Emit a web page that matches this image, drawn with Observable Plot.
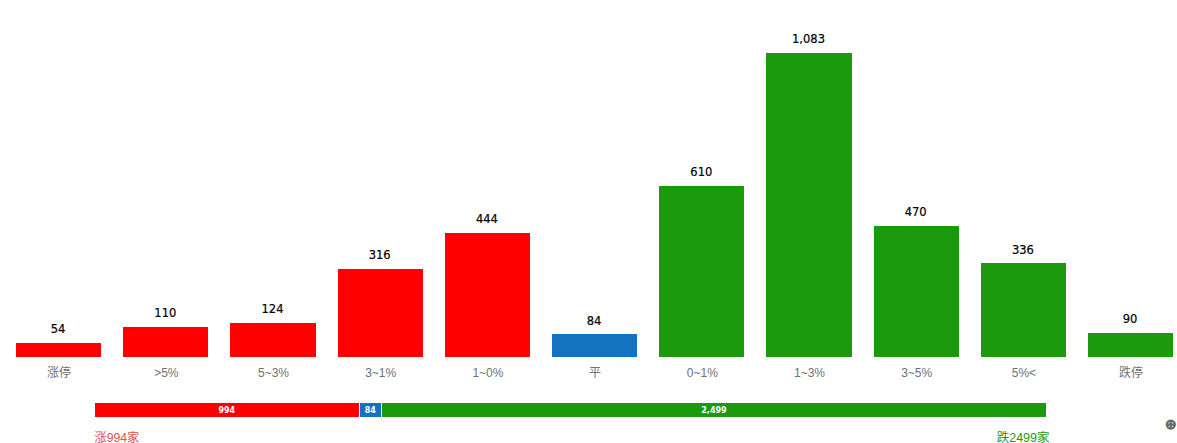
<!DOCTYPE html>
<html>
<head>
<meta charset="utf-8">
<script src="https://cdn.jsdelivr.net/npm/d3@7"></script>
<script src="https://cdn.jsdelivr.net/npm/@observablehq/plot@0.6"></script>
<style>
html,body{margin:0;padding:0;background:#fff;overflow:hidden}
#wrap{position:relative;width:1177px;height:443px;overflow:hidden}
svg{display:block}
#icon{position:absolute;left:1165px;top:415px;font:14px/18px "DejaVu Sans";color:#6a6a6a;-webkit-text-stroke:1px #6a6a6a}
</style>
</head>
<body>
<div id="wrap"></div>
<script>
const categories = ["涨停", ">5%", "5~3%", "3~1%", "1~0%", "平", "0~1%", "1~3%", "3~5%", "5%<", "跌停"];
const counts = [54, 110, 124, 316, 444, 84, 610, 1083, 470, 336, 90];
const groups = ["up","up","up","up","up","flat","down","down","down","down","down"];
const summaryNames = ["涨", "平", "跌"];
const summaryKeys = ["up", "flat", "down"];
const summaryCounts = [994, 84, 2499];
const captions = ["涨994家", "跌2499家"];
const palette = ["#ff0000", "#1373c0", "#1a9a0c"];
const font = '"Liberation Sans","Noto Sans CJK SC",sans-serif';
const fmt = d3.format(",");

const rows = categories.map((c, i) => ({c, n: counts[i], g: groups[i]}));
const color = {domain: summaryKeys, range: palette};

const main = Plot.plot({
  width: 1177, height: 390,
  marginTop: 52, marginBottom: 33, marginLeft: 0, marginRight: 0,
  style: {fontFamily: font, background: "transparent"},
  x: {domain: categories, range: [5.0, 1184.2], paddingInner: 0.206, paddingOuter: 0.103, align: 0.5, round: false, label: null},
  y: {domain: [0, 1083], label: null, axis: null},
  color,
  marks: [
    Plot.axisX({tickSize: 0, tickPadding: 11, fontSize: 12, color: "#6e7079", label: null}),
    Plot.barY(rows, {x: "c", y: "n", fill: "g", insetTop: 1, shapeRendering: "crispEdges"}),
    Plot.text(rows, {x: "c", y: "n", text: d => fmt(d.n), dx: -1, dy: -13, fontSize: 11.5, fontWeight: 400,
      fontFamily: '"DejaVu Sans"', fill: "#000", stroke: "#000", strokeWidth: 0.2})
  ]
});

const seg = summaryKeys.map((k, i) => ({k, name: summaryNames[i], n: summaryCounts[i],
  x1: d3.sum(summaryCounts.slice(0, i)), x2: d3.sum(summaryCounts.slice(0, i + 1))}));
const total = d3.sum(summaryCounts);

const summary = Plot.plot({
  width: 1177, height: 53,
  marginTop: 13, marginBottom: 26, marginLeft: 95, marginRight: 130,
  style: {fontFamily: font, background: "transparent"},
  x: {domain: [0, total], axis: null},
  y: {domain: ["s"], axis: null, padding: 0},
  color,
  marks: [
    Plot.rect(seg, {x1: "x1", x2: "x2", fill: "k", insetRight: 1, shapeRendering: "crispEdges"}),
    Plot.text(seg, {x: d => (d.x1 + d.x2) / 2, frameAnchor: "middle", text: d => fmt(d.n), dx: -1, fill: "#fff", fontSize: 8, fontWeight: "bold",
      fontFamily: '"DejaVu Sans"', style: "text-shadow:0 0 2px #222"}),
    Plot.text([captions[0]], {x: [0], frameAnchor: "bottom", dy: 24, dx: -1, textAnchor: "start", text: d => d, fill: "#d9534f", fontSize: 12.2}),
    Plot.text([captions[1]], {x: [total], frameAnchor: "bottom", dy: 24, dx: 2, textAnchor: "end", text: d => d, fill: "#1a9a0c", fontSize: 12.5})
  ]
});

const wrap = document.getElementById("wrap");
wrap.append(main, summary);
const icon = document.createElement("span");
icon.id = "icon"; icon.textContent = "⊕";
wrap.append(icon);
</script>
</body>
</html>
